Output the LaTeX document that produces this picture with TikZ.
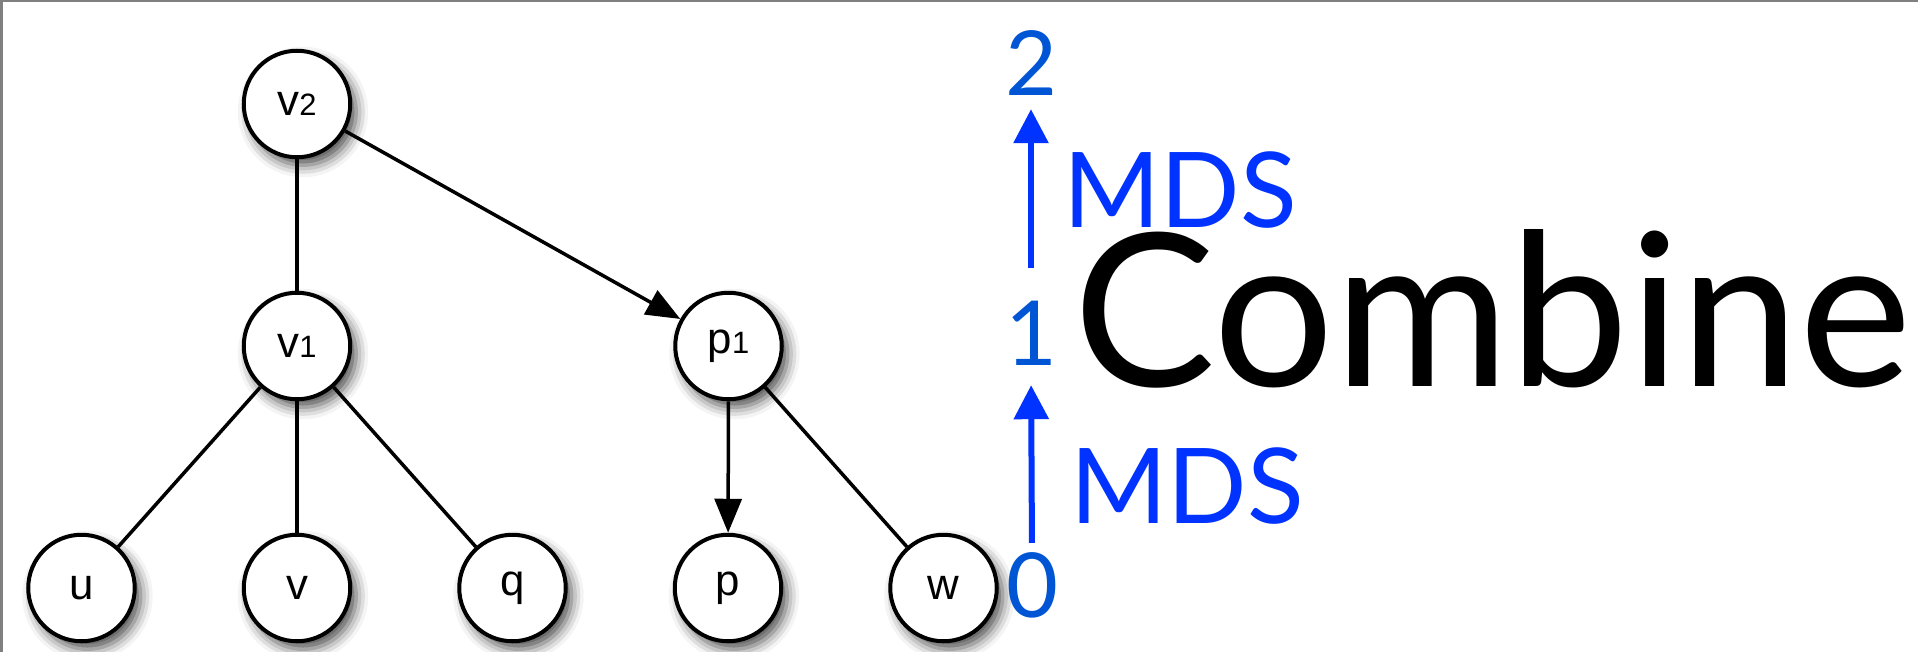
\documentclass[tikz,border=0pt]{standalone}
\usepackage{fontspec}
\setmainfont{Liberation Sans}
\newfontfamily\levelfont{Lato}
\usetikzlibrary{positioning, arrows.meta, shadows.blur}

\definecolor{levelblue}{RGB}{0,85,212}
\definecolor{mdsblue}{RGB}{0,51,255}
\definecolor{framegray}{RGB}{128,128,128}

\newcommand{\smalldigit}[1]{{\fontsize{31}{36}\selectfont #1}}

\begin{document}
\begin{tikzpicture}[ x = 1bp, y = -1bp
                     , node distance = 131.5bp and 105bp
                     , >={Triangle[width=27bp, length=34bp]}
                     , vertex/.style = { circle
                                       , draw = black
                                       , line width = 4bp
                                       , fill = white
                                       , minimum size = 106.5bp
                                       , inner sep = 0pt
                                       , font = \fontsize{44}{50}\selectfont
                                       , blur shadow={shadow xshift=6bp,shadow yshift=-8bp,shadow blur radius=12bp,shadow opacity=70} }
                     , tree edge/.style = { line width = 3.5bp }
                     , level/.style = { inner sep = 0pt
                                      , anchor = base
                                      , text = levelblue
                                      , font = \levelfont\fontsize{90}{100}\selectfont }
                     , mds/.style = { inner sep = 0pt
                                    , anchor = base west
                                    , text = mdsblue
                                    , font = \levelfont\fontsize{105}{120}\selectfont }
                     , level step/.style = { draw = mdsblue
                                           , line width = 6bp
                                           , -{Triangle[width=34bp, length=34bp]} }
                     ]

  \useasboundingbox (0,0) rectangle (1918,652);
  \draw[framegray, line width = 2.5bp] (1.25,652) -- (1.25,1.25) -- (1918,1.25);

  % the tree
  \node (v2) [vertex] at (297,104) {v\smalldigit{2}};
  \node (v1) [vertex, below = of v2] {v\smalldigit{1}};
  \node (p1) [vertex, right = 321bp of v1] {p\smalldigit{1}};
  \node (v) [vertex, below = of v1] {v};
  \node (u) [vertex, left = of v] {u};
  \node (q) [vertex, right = of v] {q};
  \node (p) [vertex, right = of q] {p};
  \node (w) [vertex, right = of p] {w};

  \draw[tree edge] (v2) edge (v1);
  \draw[tree edge, ->] (v2) edge (p1);
  \draw[tree edge] (v1) edge (u) edge (v) edge (q);
  \draw[tree edge, ->] (p1) edge (p);
  \draw[tree edge] (p1) edge (w);

  % levels and the MDS steps
  \node (d0) [level] at (1032,617) {0};
  \node (d1) [level] at (1031,365) {1};
  \node (d2) [level] at (1031,96) {2};

  \draw[level step, shorten < = 9bp, shorten > = 20bp] (d0.north) -- (d1.south);
  \draw[level step, shorten < = 32bp, shorten > = 13bp] (d1.north) -- (d2.south);

  \node (mdslow) [mds] at (1070,523) {MDS};
  \node (mdshigh) [mds] at (1063,227) {MDS};

  \node (combine) [inner sep = 0pt, anchor = base west,
                   font = \levelfont\fontsize{214}{240}\selectfont]
        at (1073,386) {Combine};

\end{tikzpicture}
\end{document}
